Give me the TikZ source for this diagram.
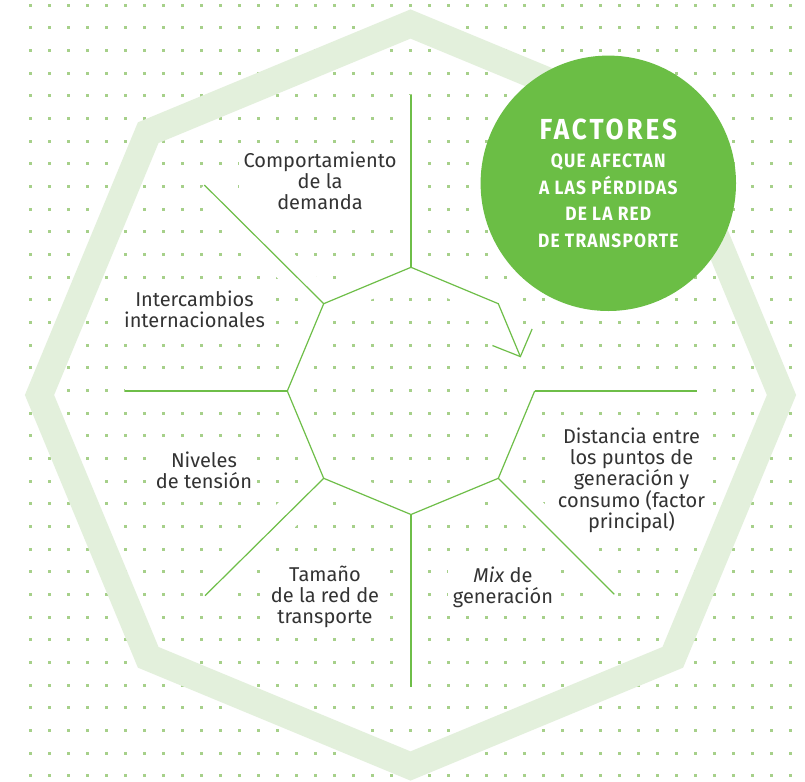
\documentclass[tikz,border=0pt]{standalone}
\usepackage{fontspec}
\setmainfont{Fira Sans}
\newfontfamily\titlefont[FakeStretch=0.9,LetterSpace=10]{Fira Sans}
\newfontfamily\subtitlefont[FakeStretch=0.9,LetterSpace=6]{Fira Sans}
\usepackage{tikz}
\usetikzlibrary{arrows.meta, calc}
\definecolor{dotgreen}{RGB}{166,208,138}
\definecolor{bandgreen}{RGB}{227,240,220}
\definecolor{linegreen}{RGB}{110,190,72}
\definecolor{badgegreen}{RGB}{107,190,69}
\definecolor{labelgray}{RGB}{51,51,51}

\begin{document}
\begin{tikzpicture}[
  x=1pt, y=-1pt,
  gridpt/.style={fill=dotgreen},
  band/.style={draw=bandgreen, line width=27pt},
  halo/.style={draw=white, line width=29pt, line join=round},
  spoke/.style={draw=linegreen, line width=1.2pt},
  factor/.style={fill=white, align=center, inner sep=5pt, text=labelgray, font=\fontsize{20}{21}\selectfont},
  badge/.style={circle, fill=badgegreen, minimum size=255.4pt, inner sep=0pt, text=white, align=center, font=\subtitlefont\bfseries\fontsize{19.3}{26.67}\selectfont}
]
\useasboundingbox[fill=white] (0,0) rectangle (805,781);
\foreach \i in {0,...,40}
  \foreach \j in {0,...,34}
    \fill[gridpt] ({28.8+19*\i},{3.8+22.66*\j}) rectangle ++(3,3);

\node[factor] (demanda) at (320,181) {Comportamiento\\de la\\demanda};
\node[factor] (intercambios) at (194.5,309) {Intercambios\\internacionales};
\node[factor] (niveles) at (204,470.5) {Niveles\\de tensión};
\node[factor] (tamano) at (325,597) {Tamaño\\de la red de\\transporte};
\node[factor] (mix) at (503,587) {\textit{Mix} de\\generación};
\node[factor] (distancia) at (631.5,480) {Distancia entre\\los puntos de\\generación y\\consumo (factor\\principal)};

\draw[band] (781.5,395) -- (672.8,132.7) -- (410.5,24) -- (148.2,132.7) -- (39.5,395)
  -- (148.2,657.3) -- (410.5,766) -- (672.8,657.3) -- cycle;

\coordinate (v1) at (411,267.3);
\coordinate (v2) at (498.3,303.7);
\coordinate (v3) at (534.7,391);
\coordinate (v4) at (498.3,478.3);
\coordinate (v5) at (411,514.5);
\coordinate (v6) at (323.7,478.3);
\coordinate (v7) at (287.3,391);
\coordinate (v8) at (323.7,303.7);
\coordinate (p1) at (411,95);
\coordinate (p3) at (697,391);
\coordinate (p4) at (614.3,594.3);
\coordinate (p5) at (411,687);
\coordinate (p6) at (205,595.7);
\coordinate (p7) at (125,391);
\coordinate (p8) at (204.3,185);
\coordinate (tip) at ($(v2)!0.615!(v3)$);

\foreach \v/\p in {v1/p1, v3/p3, v4/p4, v5/p5, v6/p6, v7/p7, v8/p8}
  \draw[halo] (\v) -- (\p);
\draw[halo] (v3) -- (v4) -- (v5) -- (v6) -- (v7) -- (v8) -- (v1) -- (v2) -- (tip);

\foreach \v/\p in {v1/p1, v3/p3, v4/p4, v5/p5, v6/p6, v7/p7, v8/p8}
  \draw[spoke] (\v) -- (\p);
\draw[spoke, -{Straight Barb[length=21pt, width=43pt]}] (v3) -- (v4) -- (v5) -- (v6) -- (v7)
  -- (v8) -- (v1) -- (v2) -- (tip);

\node[badge] (titulo) at (608.3,183.3) {{\titlefont\bfseries\fontsize{29}{30}\selectfont FACTORES}\\[1.7pt]
  QUE AFECTAN\\A LAS PÉRDIDAS\\DE LA RED\\DE TRANSPORTE};
\end{tikzpicture}
\end{document}
